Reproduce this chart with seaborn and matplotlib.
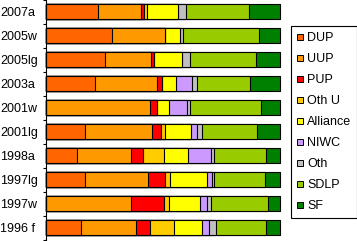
import numpy as np
import pandas as pd
import matplotlib
matplotlib.use('Agg')
import matplotlib.pyplot as plt
import seaborn as sns
from matplotlib.lines import Line2D

elections = ['2007a', '2005w', '2005lg', '2003a', '2001w', '2001lg', '1998a', '1997lg', '1997w', '1996 f']
parties = ['DUP', 'UUP', 'PUP', 'Oth U', 'Alliance', 'NIWC', 'Oth', 'SDLP', 'SF']
colours = ['#FF6600', '#FF9900', '#FF0000', '#FFCC00', '#FFFF00', '#CC99FF', '#C0C0C0', '#99CC00', '#008000']

# share of vote (%) per election
dup      = [22.1, 28.3, 25.3, 21.0,  0.0, 16.7, 13.3, 16.7,  0.0, 15.0]
uup      = [18.3, 22.7, 19.7, 26.4, 44.5, 28.7, 23.0, 27.0, 36.3, 23.5]
pup      = [ 1.3,  0.0,  1.2,  2.1,  2.9,  3.7,  5.3,  7.3, 14.3,  5.9]
oth_u    = [ 1.4,  0.0,  0.0,  0.0,  0.0,  1.7,  8.9,  2.1,  2.1, 10.3]
alliance = [13.3,  6.1, 12.0,  6.0,  5.1, 11.0, 10.1, 15.7, 13.3, 12.0]
niwc     = [ 0.0,  0.0,  0.0,  6.8,  7.7,  2.7,  9.9,  2.1,  2.9,  3.0]
oth      = [ 3.6,  1.4,  3.5,  2.1,  1.4,  2.1,  1.4,  1.0,  1.7,  2.9]
sdlp     = [26.8, 32.5, 28.2, 22.7, 30.4, 23.5, 22.3, 21.8, 24.4, 21.4]
sf       = [13.2,  9.0, 10.1, 12.9,  8.0,  9.9,  5.9,  6.3,  5.0,  6.0]

df = pd.DataFrame(dict(zip(parties, [dup, uup, pup, oth_u, alliance, niwc, oth, sdlp, sf])),
                  index=elections)
cum = df.cumsum(axis=1)

plt.rcParams['font.family'] = ['Liberation Sans', 'DejaVu Sans']
plt.rcParams['font.size'] = 9

fig = plt.figure(figsize=(3.57, 2.41), dpi=100)
ax = fig.add_axes([46 / 357, 1.3 / 241, 234 / 357, 240 / 241])

# stacked bars: draw the cumulative totals from the right-most party back
for party, colour in reversed(list(zip(parties, colours))):
    sns.barplot(x=cum[party].values, y=elections, order=elections, orient='h',
                color=colour, saturation=1, edgecolor='black', linewidth=0.8,
                width=0.6, errorbar=None, ax=ax)

for p in ax.patches:
    p.set_clip_on(False)

ax.set_xlim(0, 100)
ax.set_ylim(len(elections) - 0.5, -0.5)
ax.set_xlabel('')
ax.set_ylabel('')
for s in ['top', 'right', 'bottom']:
    ax.spines[s].set_visible(False)
ax.spines['left'].set_linewidth(0.8)
ax.set_xticks([])

ax.set_yticks(np.arange(len(elections)))
ax.set_yticklabels(elections)
ax.set_yticks(np.arange(len(elections) + 1) - 0.5, minor=True)
ax.tick_params(axis='y', which='major', length=0, pad=33)
ax.tick_params(axis='y', which='minor', length=2.5, width=0.8, direction='out')
for lab in ax.get_yticklabels():
    lab.set_horizontalalignment('left')

handles = [Line2D([], [], marker='s', linestyle='', markersize=4.5, markerfacecolor=c,
                  markeredgecolor='black', markeredgewidth=0.7) for c in colours]
leg = fig.legend(handles, parties, loc='upper left',
                 bbox_to_anchor=(290.7 / 357, 1 - 25.7 / 241), bbox_transform=fig.transFigure,
                 borderaxespad=0, frameon=True, fancybox=False, framealpha=1,
                 edgecolor='black', borderpad=0.5, labelspacing=0.72,
                 handlelength=0.5, handletextpad=0.3)
leg.get_frame().set_linewidth(0.8)

fig.savefig('out.png', dpi=100)
